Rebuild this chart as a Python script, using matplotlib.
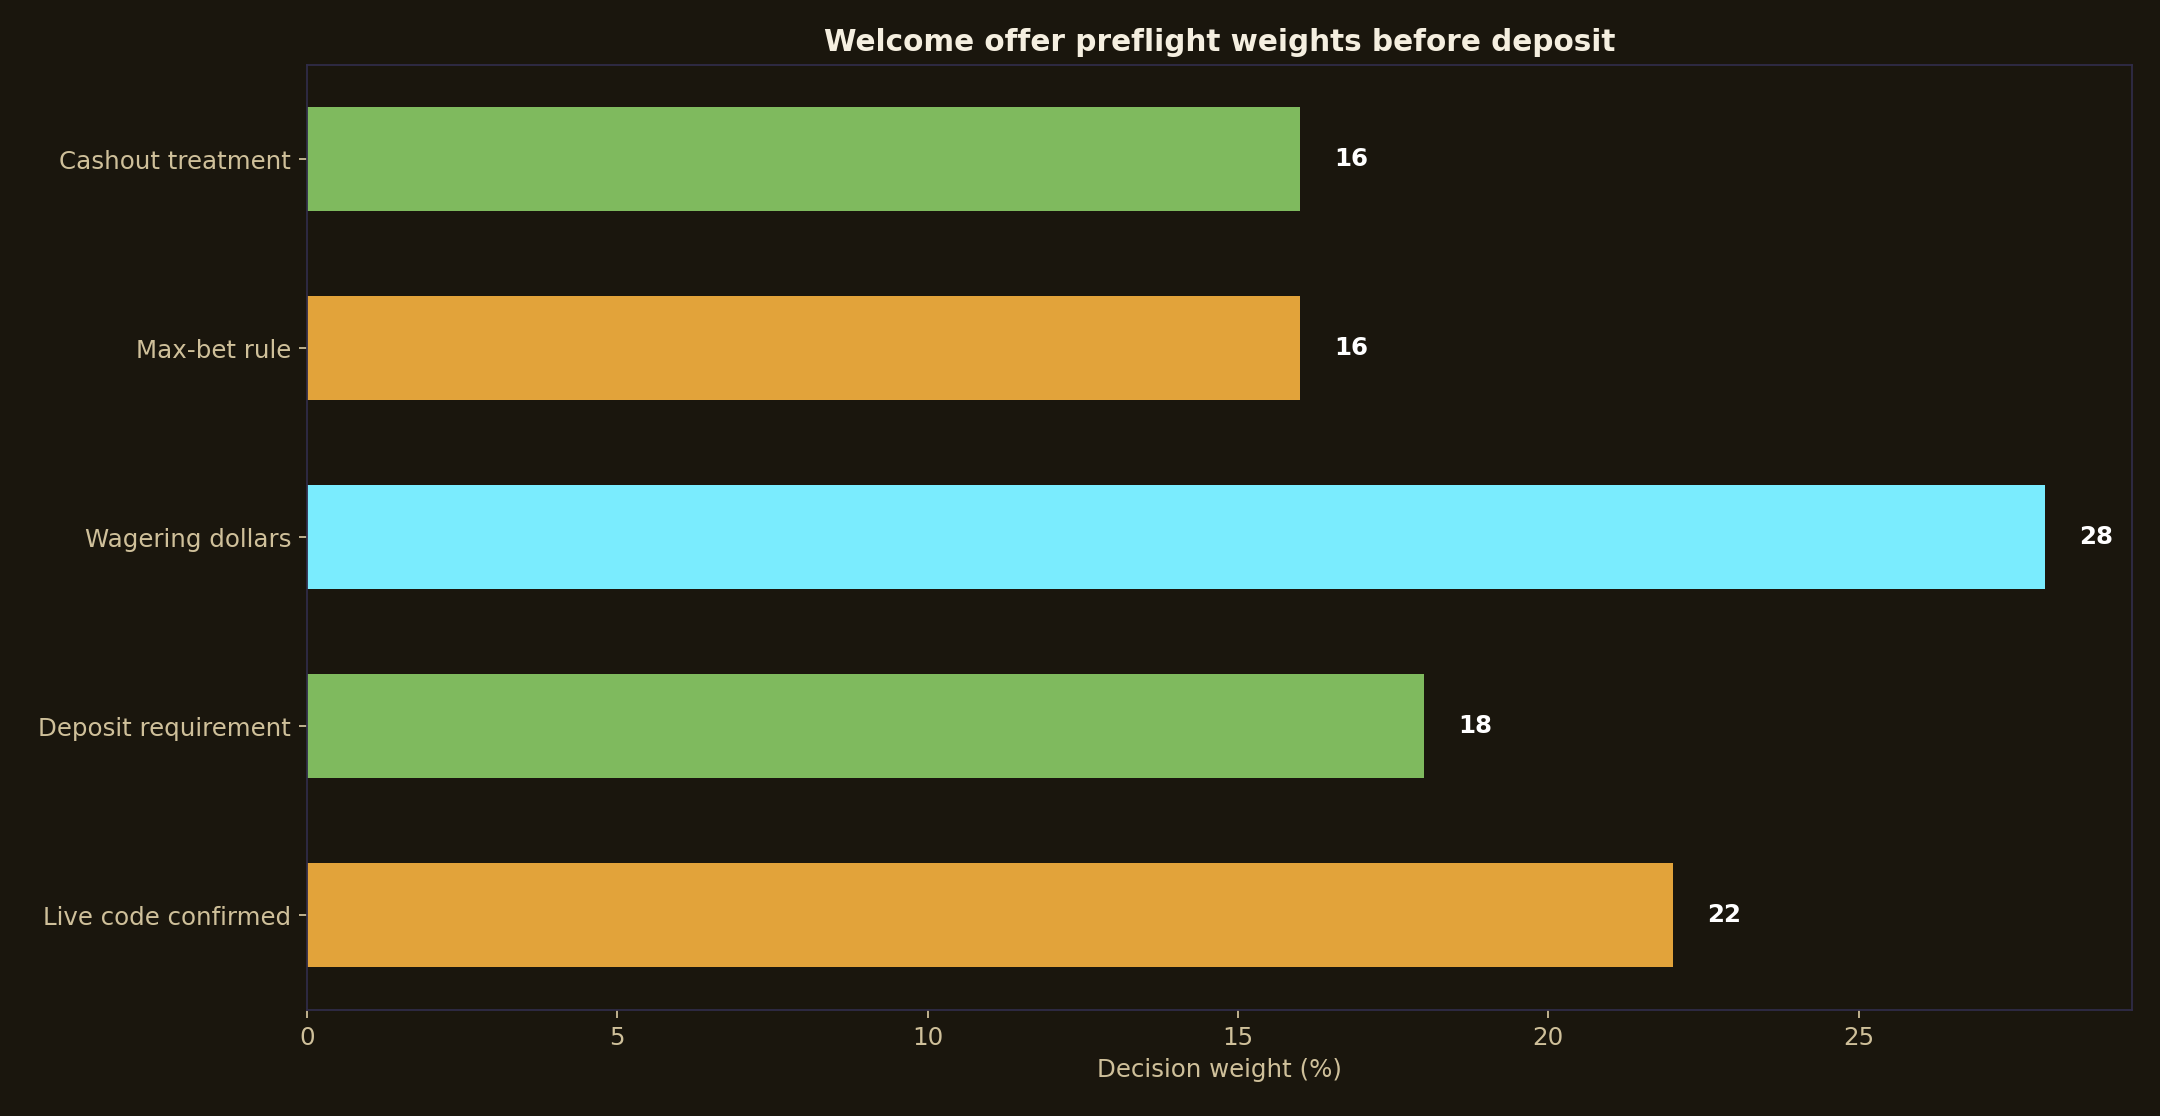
import matplotlib
matplotlib.use("Agg")
import matplotlib.pyplot as plt

categories = ["Live code confirmed", "Deposit requirement", "Wagering dollars",
              "Max-bet rule", "Cashout treatment"]
weights = [22, 18, 28, 16, 16]
bar_colors = ["#e2a33a", "#7fba5e", "#7aecfe", "#e2a33a", "#7fba5e"]

BG = "#1a160d"
TICK = "#cfc09a"
SPINE = "#302c48"

fig, ax = plt.subplots(figsize=(13.5, 6.975), dpi=160, facecolor=BG)
ax.set_facecolor(BG)
fig.subplots_adjust(left=0.142, right=0.987, top=0.942, bottom=0.095)

y = range(len(categories))
ax.barh(y, weights, height=0.55, color=bar_colors)
for yi, w in zip(y, weights):
    ax.text(w + 0.55, yi, f"{w}", color="white", fontsize=11,
            fontweight="bold", va="center", ha="left")

ax.set_yticks(list(y))
ax.set_yticklabels(categories)
ax.set_ylim(-0.5, len(categories) - 0.5)
ax.set_xlim(0, max(weights) * 1.05)
ax.set_xlabel("Decision weight (%)", color=TICK, fontsize=11)
ax.set_title("Welcome offer preflight weights before deposit",
             color="#f5efe0", fontsize=13.3, fontweight="bold", pad=6)
ax.tick_params(colors=TICK, labelsize=11)
for s in ax.spines.values():
    s.set_color(SPINE)

fig.savefig("out.png", dpi=160, facecolor=BG)
